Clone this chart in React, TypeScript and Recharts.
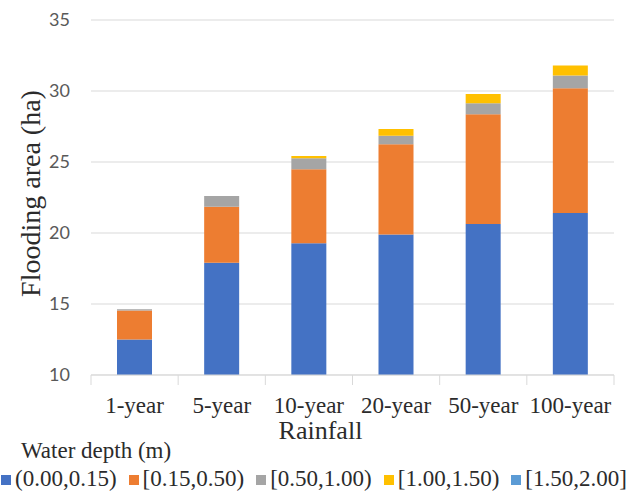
import React from 'react';
import { BarChart, Bar, XAxis, YAxis, CartesianGrid, Legend } from 'recharts';

const CATEGORIES = ['1-year', '5-year', '10-year', '20-year', '50-year', '100-year'];
const DEPTH_0_015 = [12.5, 17.9, 19.27, 19.9, 20.63, 21.4];
const DEPTH_015_050 = [2.05, 3.95, 5.22, 6.35, 7.73, 8.8];
const DEPTH_050_100 = [0.08, 0.75, 0.77, 0.6, 0.77, 0.9];
const DEPTH_100_150 = [0, 0, 0.16, 0.47, 0.66, 0.7];
const DEPTH_150_200 = [0, 0, 0, 0, 0, 0];
const Y_TICKS = [10, 15, 20, 25, 30, 35];

const SERIES = [
  { key: 'd1', name: '(0.00,0.15)', color: '#4472C4', values: DEPTH_0_015 },
  { key: 'd2', name: '[0.15,0.50)', color: '#ED7D31', values: DEPTH_015_050 },
  { key: 'd3', name: '[0.50,1.00)', color: '#A5A5A5', values: DEPTH_050_100 },
  { key: 'd4', name: '[1.00,1.50)', color: '#FFC000', values: DEPTH_100_150 },
  { key: 'd5', name: '[1.50,2.00]', color: '#5B9BD5', values: DEPTH_150_200 },
];

const chartData = CATEGORIES.map((name, i) => {
  const row: any = { name };
  SERIES.forEach((s) => { row[s.key] = s.values[i]; });
  return row;
});

const SERIF = '"Liberation Serif", serif';
const TEXT = '#2b2b2b';

const CategoryTick = (props: any) => {
  const { x, y, payload, index } = props;
  const half = payload.offset ?? 0;
  return (
    <g>
      <line x1={x - half} x2={x - half} y1={y} y2={y + 10} stroke="#D9D9D9" />
      {index === CATEGORIES.length - 1 && (
        <line x1={x + half} x2={x + half} y1={y} y2={y + 10} stroke="#D9D9D9" />
      )}
      <text x={x} y={y + 38} textAnchor="middle" fill={TEXT} fontSize={23} fontFamily={SERIF}>
        {payload.value}
      </text>
    </g>
  );
};

const XLabel = (props: any) => {
  const { viewBox } = props;
  return (
    <text x={viewBox.x + viewBox.width / 2 - 32} y={viewBox.y + viewBox.height}
      textAnchor="middle" fill={TEXT} fontSize={26} fontFamily={SERIF}>
      Rainfall
    </text>
  );
};

const YLabel = (props: any) => {
  const { viewBox } = props;
  const cx = viewBox.x + 30;
  const cy = viewBox.y + viewBox.height / 2 - 4;
  return (
    <text x={cx} y={cy} transform={`rotate(-90, ${cx}, ${cy})`} textAnchor="middle"
      dominantBaseline="central" fill={TEXT} fontSize={28} fontFamily={SERIF}>
      Flooding area (ha)
    </text>
  );
};

const LegendBox = () => (
  <div style={{ height: 55, fontFamily: SERIF, color: TEXT, fontSize: 23 }}>
    <div style={{ paddingLeft: 21, lineHeight: '24px', height: 28 }}>Water depth (m)</div>
    <div style={{ display: 'flex', paddingLeft: 1, whiteSpace: 'nowrap', lineHeight: '24px' }}>
      {SERIES.map((s) => (
        <span key={s.key} style={{ display: 'inline-flex', alignItems: 'center', marginRight: 12 }}>
          <span style={{ width: 10, height: 10, background: s.color, display: 'inline-block', marginRight: 4, marginTop: 2 }} />
          {s.name}
        </span>
      ))}
    </div>
  </div>
);

export default function App() {
  return (
    <div style={{ position: 'absolute', left: 0, top: 0, width: 632, height: 494, background: '#fff' }}>
      <BarChart width={632} height={494} data={chartData} margin={{ top: 20, right: 18, left: 0, bottom: 0 }}>
        <CartesianGrid vertical={false} stroke="#D9D9D9" />
        <XAxis
          dataKey="name"
          height={64}
          axisLine={{ stroke: '#D9D9D9' }}
          tickLine={false}
          tickSize={0}
          tickMargin={0}
          tick={<CategoryTick />}
          interval={0}
          label={<XLabel />}
        />
        <YAxis
          width={91}
          domain={[10, 35]}
          ticks={Y_TICKS}
          allowDataOverflow
          axisLine={false}
          tickLine={false}
          tickSize={0}
          tickMargin={21}
          tick={{ fill: '#595959', fontSize: 18, fontFamily: 'Lato, sans-serif' }}
          label={<YLabel />}
        />
        <Legend verticalAlign="bottom" align="left" content={<LegendBox />} wrapperStyle={{ left: 0, width: 632 }} />
        {SERIES.map((s) => (
          <Bar key={s.key} dataKey={s.key} name={s.name} stackId="a" fill={s.color} barSize={35} isAnimationActive={false} />
        ))}
      </BarChart>
    </div>
  );
}
